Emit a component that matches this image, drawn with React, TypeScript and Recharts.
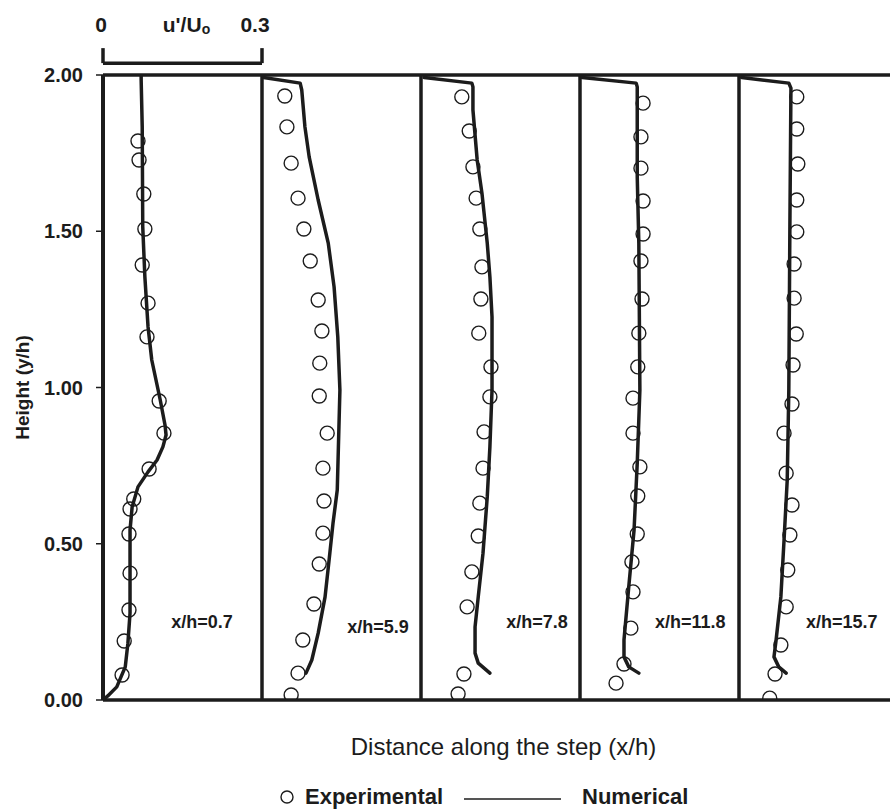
import React from 'react';
import {
  ComposedChart,
  Line,
  Scatter,
  XAxis,
  YAxis,
  ReferenceLine,
  ReferenceDot,
} from 'recharts';

const INK = '#1c1c1c';
const FONT = '"Liberation Sans", Arial, Helvetica, sans-serif';

// Each profile panel spans 0.3 in u'/Uo; panels sit side by side on one x scale.
const PANEL_SPAN = 0.3;
const stations = ['x/h=0.7', 'x/h=5.9', 'x/h=7.8', 'x/h=11.8', 'x/h=15.7'];
const yTicks = [0, 0.5, 1, 1.5, 2];

// Experimental profiles: [u'/Uo, y/h]
const exp07 = [
  [0.066, 1.789], [0.068, 1.728], [0.077, 1.619], [0.079, 1.507], [0.074, 1.392],
  [0.085, 1.27], [0.083, 1.162], [0.106, 0.957], [0.115, 0.854], [0.087, 0.739],
  [0.058, 0.643], [0.051, 0.611], [0.049, 0.531], [0.051, 0.406], [0.049, 0.288],
  [0.04, 0.189], [0.036, 0.08],
];
const exp59 = [
  [0.043, 1.933], [0.047, 1.834], [0.055, 1.718], [0.068, 1.606], [0.079, 1.507],
  [0.091, 1.405], [0.106, 1.28], [0.113, 1.181], [0.109, 1.078], [0.108, 0.973],
  [0.123, 0.854], [0.115, 0.742], [0.117, 0.637], [0.115, 0.534], [0.108, 0.435],
  [0.098, 0.307], [0.077, 0.192], [0.068, 0.086], [0.055, 0.016],
];
const exp78 = [
  [0.077, 1.93], [0.091, 1.821], [0.098, 1.706], [0.104, 1.606], [0.111, 1.507],
  [0.115, 1.386], [0.113, 1.283], [0.109, 1.174], [0.132, 1.066], [0.13, 0.97],
  [0.119, 0.858], [0.117, 0.742], [0.111, 0.63], [0.108, 0.525], [0.096, 0.41],
  [0.087, 0.298], [0.081, 0.083], [0.07, 0.019],
];
const exp118 = [
  [0.119, 1.91], [0.115, 1.802], [0.115, 1.702], [0.119, 1.597], [0.119, 1.491],
  [0.115, 1.405], [0.117, 1.283], [0.111, 1.174], [0.109, 1.066], [0.1, 0.966],
  [0.1, 0.854], [0.113, 0.746], [0.109, 0.653], [0.108, 0.531], [0.098, 0.442],
  [0.1, 0.346], [0.096, 0.23], [0.083, 0.115], [0.068, 0.054],
];
const exp157 = [
  [0.109, 1.93], [0.109, 1.827], [0.111, 1.715], [0.109, 1.6], [0.109, 1.498],
  [0.104, 1.395], [0.104, 1.286], [0.108, 1.171], [0.102, 1.072], [0.1, 0.947],
  [0.085, 0.854], [0.089, 0.726], [0.1, 0.624], [0.096, 0.528], [0.092, 0.416],
  [0.089, 0.298], [0.079, 0.176], [0.068, 0.083], [0.058, 0.006],
];

// Numerical profiles: [u'/Uo, y/h]
const num07 = [
  [0.072, 2.0], [0.072, 1.984], [0.074, 1.834], [0.075, 1.514], [0.079, 1.354],
  [0.085, 1.194], [0.092, 1.088], [0.102, 1.008], [0.108, 0.96], [0.117, 0.88],
  [0.119, 0.848], [0.113, 0.81], [0.102, 0.768], [0.085, 0.73], [0.066, 0.682],
  [0.055, 0.618], [0.051, 0.544], [0.051, 0.278], [0.047, 0.182], [0.042, 0.106],
  [0.026, 0.042], [0.009, 0.013], [0, 0],
];
const num59 = [
  [0.003, 1.992], [0.072, 1.974], [0.075, 1.952], [0.081, 1.834], [0.089, 1.738],
  [0.106, 1.6], [0.125, 1.462], [0.136, 1.322], [0.143, 1.162], [0.147, 0.992],
  [0.145, 0.864], [0.142, 0.672], [0.134, 0.566], [0.128, 0.47], [0.119, 0.33],
  [0.106, 0.214], [0.094, 0.128], [0.083, 0.086],
];
const num78 = [
  [0.006, 1.992], [0.096, 1.974], [0.098, 1.962], [0.098, 1.888], [0.106, 1.728],
  [0.115, 1.622], [0.125, 1.462], [0.13, 1.354], [0.134, 1.226], [0.134, 0.992],
  [0.13, 0.81], [0.125, 0.65], [0.117, 0.47], [0.108, 0.33], [0.102, 0.234],
  [0.102, 0.15], [0.108, 0.118], [0.13, 0.086],
];
const num118 = [
  [0.004, 1.992], [0.106, 1.974], [0.108, 1.962], [0.108, 1.674], [0.111, 1.462],
  [0.113, 0.992], [0.108, 0.758], [0.102, 0.544], [0.092, 0.362], [0.083, 0.192],
  [0.083, 0.138], [0.092, 0.106], [0.111, 0.086],
];
const num157 = [
  [0.005, 1.992], [0.094, 1.974], [0.098, 1.958], [0.096, 1.514], [0.094, 0.992],
  [0.091, 0.704], [0.085, 0.512], [0.079, 0.33], [0.07, 0.192], [0.066, 0.138],
  [0.075, 0.106], [0.089, 0.086],
];

const experimental = [exp07, exp59, exp78, exp118, exp157];
const numerical = [num07, num59, num78, num118, num157];

// Where each station caption sits inside its panel: [u'/Uo, y/h]
const captionAnchors = [
  [0.187, 0.25], [0.219, 0.234], [0.219, 0.25], [0.208, 0.25], [0.194, 0.25],
];

// Scale bar above the first panel
const scaleBarLow = 0;
const scaleBarHigh = 0.3;
const scaleBarY = 2.038;
const scaleBarCapY = 2.086;
const scaleLabelY = 2.163;

const shift = (profile: number[][], panel: number) =>
  profile.map(([u, y]) => ({ x: panel * PANEL_SPAN + u, y }));

const OpenCircle = (props: any) => {
  const { cx, cy } = props;
  if (cx == null || cy == null) return null;
  return <circle cx={cx} cy={cy} r={7} fill="none" stroke={INK} strokeWidth={1.4} />;
};

const textAt = (content: React.ReactNode, style: any, dx = 0) => (props: any) => (
  <text
    x={props.cx + dx}
    y={props.cy}
    textAnchor="middle"
    dominantBaseline="central"
    fontFamily={FONT}
    fill={INK}
    {...style}
  >
    {content}
  </text>
);

const YTitle = (props: any) => {
  const vb = props.viewBox || {};
  const cx = vb.x - 1;
  const cy = vb.y + vb.height / 2;
  return (
    <text
      x={cx}
      y={cy}
      transform={`rotate(-90, ${cx}, ${cy})`}
      textAnchor="middle"
      dominantBaseline="central"
      fontFamily={FONT}
      fontWeight="bold"
      fontSize={19}
      fill={INK}
    >
      Height (y/h)
    </text>
  );
};

const XTitle = (props: any) => {
  const vb = props.viewBox || {};
  return (
    <text
      x={vb.x + vb.width / 2 + 3}
      y={755}
      textAnchor="middle"
      fontFamily={FONT}
      fontSize={24}
      fill={INK}
    >
      Distance along the step (x/h)
    </text>
  );
};

export default function App() {
  return (
    <div
      style={{
        position: 'absolute',
        left: 0,
        top: 0,
        width: 890,
        height: 812,
        overflow: 'hidden',
        background: '#fff',
      }}
    >
      <ComposedChart
        width={898}
        height={812}
        margin={{ top: 75, right: 0, bottom: 72, left: 23 }}
      >
        <XAxis
          type="number"
          dataKey="x"
          domain={[0, PANEL_SPAN * stations.length]}
          allowDataOverflow
          tick={false}
          tickLine={false}
          axisLine={{ stroke: INK, strokeWidth: 3.5 }}
          height={40}
          label={XTitle}
        />
        <YAxis
          type="number"
          dataKey="y"
          domain={[0, 2]}
          ticks={yTicks}
          allowDataOverflow
          width={80}
          tickFormatter={(v: number) => v.toFixed(2)}
          tick={{ fill: INK, fontSize: 20, fontWeight: 'bold', fontFamily: FONT }}
          tickSize={7}
          tickMargin={13}
          tickLine={{ stroke: INK, strokeWidth: 1.5 }}
          axisLine={{ stroke: INK, strokeWidth: 4 }}
          label={YTitle}
        />

        <ReferenceLine y={2} stroke={INK} strokeWidth={3.5} ifOverflow="visible" />
        {stations.slice(1).map((s, i) => (
          <ReferenceLine
            key={s}
            x={(i + 1) * PANEL_SPAN}
            stroke={INK}
            strokeWidth={3.5}
          />
        ))}

        {/* u'/Uo scale bar */}
        <ReferenceLine
          segment={[{ x: scaleBarLow, y: scaleBarY }, { x: scaleBarHigh, y: scaleBarY }]}
          stroke={INK}
          strokeWidth={3.5}
          ifOverflow="visible"
        />
        <ReferenceLine
          segment={[{ x: scaleBarLow, y: scaleBarY }, { x: scaleBarLow, y: scaleBarCapY }]}
          stroke={INK}
          strokeWidth={3.5}
          ifOverflow="visible"
        />
        <ReferenceLine
          segment={[{ x: scaleBarHigh, y: scaleBarY }, { x: scaleBarHigh, y: scaleBarCapY }]}
          stroke={INK}
          strokeWidth={3.5}
          ifOverflow="visible"
        />
        <ReferenceDot
          x={scaleBarLow}
          y={scaleLabelY}
          ifOverflow="visible"
          shape={textAt(String(scaleBarLow), { fontSize: 21, fontWeight: 'bold' }, -2)}
        />
        <ReferenceDot
          x={(scaleBarLow + scaleBarHigh) / 2}
          y={scaleLabelY}
          ifOverflow="visible"
          shape={textAt(
            <>
              <tspan>u'/U</tspan>
              <tspan fontSize={14} dy={5}>o</tspan>
            </>,
            { fontSize: 21, fontWeight: 'bold' },
            4
          )}
        />
        <ReferenceDot
          x={scaleBarHigh}
          y={scaleLabelY}
          ifOverflow="visible"
          shape={textAt(String(scaleBarHigh), { fontSize: 21, fontWeight: 'bold' }, -7)}
        />

        {numerical.map((profile, i) => (
          <Line
            key={`num-${stations[i]}`}
            data={shift(profile, i)}
            dataKey="y"
            type="linear"
            stroke={INK}
            strokeWidth={3.5}
            strokeLinejoin="round"
            strokeLinecap="round"
            dot={false}
            activeDot={false}
            isAnimationActive={false}
          />
        ))}
        {experimental.map((profile, i) => (
          <Scatter
            key={`exp-${stations[i]}`}
            data={shift(profile, i)}
            dataKey="y"
            shape={OpenCircle}
            isAnimationActive={false}
          />
        ))}

        {stations.map((s, i) => (
          <ReferenceDot
            key={`cap-${s}`}
            x={i * PANEL_SPAN + captionAnchors[i][0]}
            y={captionAnchors[i][1]}
            ifOverflow="visible"
            shape={textAt(s, { fontSize: 18, fontWeight: 'bold' })}
          />
        ))}
      </ComposedChart>

      {/* Legend */}
      <div
        style={{
          position: 'absolute',
          left: 0,
          top: 783,
          width: 890,
          height: 28,
          fontFamily: FONT,
          fontWeight: 'bold',
          fontSize: 22,
          color: INK,
        }}
      >
        <svg style={{ position: 'absolute', left: 279, top: 6 }} width={16} height={16}>
          <circle cx={8} cy={8} r={6} fill="none" stroke={INK} strokeWidth={1.4} />
        </svg>
        <span style={{ position: 'absolute', left: 305, top: 0, lineHeight: '28px' }}>
          Experimental
        </span>
        <svg style={{ position: 'absolute', left: 464, top: 14 }} width={98} height={4}>
          <line x1={0} y1={2} x2={97} y2={2} stroke={INK} strokeWidth={1.5} />
        </svg>
        <span style={{ position: 'absolute', left: 582, top: 0, lineHeight: '28px' }}>
          Numerical
        </span>
      </div>
    </div>
  );
}
